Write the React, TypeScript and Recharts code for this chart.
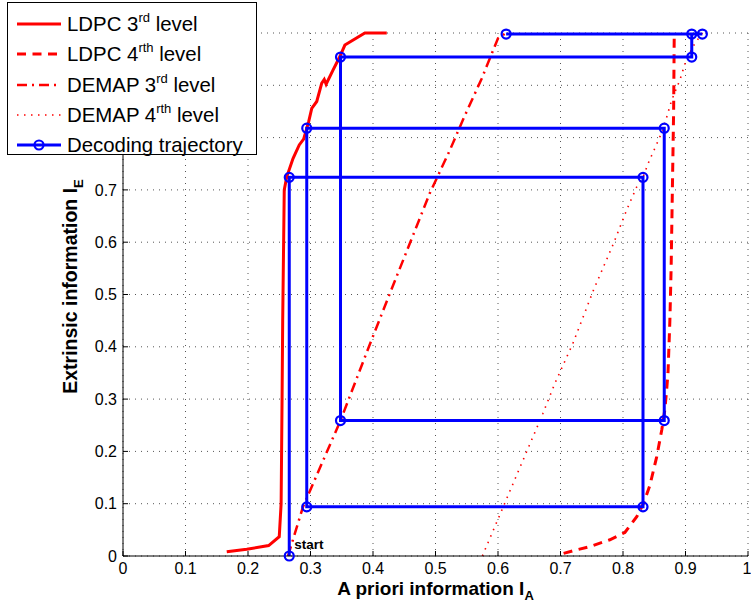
import React from 'react';
import { LineChart, Line, XAxis, YAxis, CartesianGrid, Legend, Label, LabelList } from 'recharts';

type P = { x: number; y: number };
const pts = (a: number[][]): P[] => a.map(([x, y]) => ({ x, y }));

// LDPC 3rd level (solid)
const ldpc3rd = pts([
  [0.166, 0.008], [0.198, 0.013], [0.233, 0.02], [0.250, 0.037], [0.253, 0.10],
  [0.2545, 0.30], [0.2555, 0.45], [0.257, 0.60], [0.258, 0.70], [0.262, 0.725],
  [0.272, 0.76], [0.282, 0.786], [0.289, 0.797], [0.297, 0.830], [0.302, 0.856],
  [0.310, 0.869], [0.318, 0.904], [0.322, 0.911], [0.325, 0.902], [0.336, 0.929],
  [0.347, 0.955], [0.355, 0.977], [0.387, 1.0], [0.422, 1.0],
]);

// LDPC 4rth level (dashed)
const ldpc4rth = pts([
  [0.705, 0.005], [0.72, 0.010], [0.747, 0.018], [0.779, 0.031], [0.803, 0.045],
  [0.822, 0.075], [0.833, 0.101], [0.843, 0.135], [0.854, 0.19], [0.862, 0.241],
  [0.867, 0.28], [0.870, 0.32], [0.872, 0.35], [0.875, 0.45], [0.877, 0.55],
  [0.879, 0.7], [0.881, 0.85], [0.882, 1.0],
]);

// DEMAP 3rd level (dash-dot)
const demap3rd = pts([
  [0.264, 0.0], [0.288, 0.094], [0.348, 0.259], [0.395, 0.405], [0.427, 0.502],
  [0.459, 0.598], [0.491, 0.694], [0.523, 0.776], [0.545, 0.837], [0.574, 0.913],
  [0.600, 0.99], [0.613, 1.0],
]);

// DEMAP 4rth level (dotted)
const demap4rth = pts([
  [0.575, 0.0], [0.63, 0.155], [0.672, 0.273], [0.691, 0.330], [0.720, 0.407],
  [0.753, 0.509], [0.785, 0.598], [0.806, 0.662], [0.822, 0.706], [0.832, 0.724],
  [0.840, 0.750], [0.864, 0.815], [0.878, 0.872], [0.891, 0.910], [0.902, 0.952],
  [0.915, 0.980], [0.927, 1.0],
]);

// Decoding trajectory
const trajectory = pts([
  [0.266, 0.0], [0.266, 0.724], [0.832, 0.724], [0.832, 0.094], [0.294, 0.094],
  [0.294, 0.818], [0.866, 0.818], [0.866, 0.259], [0.348, 0.259], [0.348, 0.954],
  [0.910, 0.954], [0.910, 0.998], [0.613, 0.998], [0.927, 0.998],
]);

const xTicks = [0, 0.1, 0.2, 0.3, 0.4, 0.5, 0.6, 0.7, 0.8, 0.9, 1];
const yTicks = [0, 0.1, 0.2, 0.3, 0.4, 0.5, 0.6, 0.7, 0.8, 0.9, 1];
// y tick labels above 0.7 are hidden behind the legend box in the reference
const yLabelMax = 0.7;

const legendEntries = [
  { base: 'LDPC 3', sup: 'rd', tail: ' level', color: '#ff0000', dash: undefined as string | undefined, width: 3, marker: false },
  { base: 'LDPC 4', sup: 'rth', tail: ' level', color: '#ff0000', dash: '9 6.5', width: 3, marker: false },
  { base: 'DEMAP 3', sup: 'rd', tail: ' level', color: '#ff0000', dash: '10 5 2 5', width: 2.5, marker: false },
  { base: 'DEMAP 4', sup: 'rth', tail: ' level', color: '#ff0000', dash: '1.5 5.5', width: 1.6, marker: false },
  { base: 'Decoding trajectory', sup: '', tail: '', color: '#0000ff', dash: undefined, width: 3, marker: true },
];
const rowCenters = [21, 51, 82, 112, 142];

const startLabel = 'start';
const xAxisTitle = 'A priori information I';
const xAxisSub = 'A';
const yAxisTitle = 'Extrinsic information I';
const yAxisSub = 'E';

const FONT = '"Liberation Sans", Arial, Helvetica, sans-serif';
const fmt = (v: number) => String(+v.toFixed(1));
const fmtY = (v: number) => (v > yLabelMax + 1e-9 ? '' : String(+v.toFixed(1)));

const renderLegend = () => (
  <div
    style={{
      position: 'relative',
      width: 250,
      height: 153,
      border: '1px solid #000',
      background: '#fff',
      boxSizing: 'border-box',
      fontFamily: FONT,
      fontSize: 20.4,
      color: '#000',
    }}
  >
    {legendEntries.map((e, i) => (
      <div key={i} style={{ position: 'absolute', left: 0, top: rowCenters[i] - 13, height: 26, width: 248 }}>
        <svg width={60} height={26} style={{ position: 'absolute', left: 0, top: 0 }}>
          <line x1={9} y1={13} x2={53} y2={13} stroke={e.color} strokeWidth={e.width} strokeDasharray={e.dash} />
          {e.marker && <circle cx={31} cy={13} r={4.5} stroke={e.color} strokeWidth={2.2} fill="none" />}
        </svg>
        <span style={{ position: 'absolute', left: 59, top: 0, lineHeight: '26px', whiteSpace: 'nowrap' }}>
          {e.base}
          {e.sup && <span style={{ fontSize: 13, position: 'relative', top: -9 }}>{e.sup}</span>}
          {e.tail}
        </span>
      </div>
    ))}
  </div>
);

const StartLabel = (props: any) => {
  if (props.index !== 0) return null;
  const x = props.x ?? props.viewBox?.x;
  const y = props.y ?? props.viewBox?.y;
  return (
    <text x={x + 5} y={y - 7} fontFamily={FONT} fontWeight="bold" fontSize={13.5} fill="#000">
      {startLabel}
    </text>
  );
};

const XTitle = (props: any) => {
  const vb = props.viewBox;
  return (
    <text x={vb.x + vb.width / 2} y={vb.y + 39} textAnchor="middle" fontFamily={FONT} fontWeight="bold" fontSize={19} fill="#000">
      {xAxisTitle}
      <tspan fontSize={13} dy={5}>{xAxisSub}</tspan>
    </text>
  );
};

const YTitle = (props: any) => {
  const vb = props.viewBox;
  const cx = vb.x + 77;
  const cy = vb.y + vb.height / 2 - 8;
  return (
    <text x={cx} y={cy} transform={`rotate(-90 ${cx} ${cy})`} textAnchor="middle" fontFamily={FONT} fontWeight="bold" fontSize={19.5} fill="#000">
      {yAxisTitle}
      <tspan fontSize={13} dy={6}>{yAxisSub}</tspan>
    </text>
  );
};

export default function App() {
  return (
    <div style={{ position: 'absolute', left: 0, top: 0, width: 751, height: 613, background: '#fff', fontFamily: FONT }}>
      <LineChart width={751} height={613} margin={{ top: 33, right: 3, bottom: 0, left: 0 }}>
        <CartesianGrid stroke="#555" strokeDasharray="1 5" />
        <XAxis
          type="number"
          dataKey="x"
          domain={[0, 1]}
          ticks={xTicks}
          tickFormatter={fmt}
          height={57}
          tickSize={-5}
          tickMargin={12}
          axisLine={{ stroke: '#000', strokeWidth: 1 }}
          tickLine={{ stroke: '#000' }}
          tick={{ fill: '#000', fontSize: 16, fontFamily: FONT }}
          allowDecimals
        >
          <Label content={XTitle} />
        </XAxis>
        <YAxis
          type="number"
          dataKey="y"
          domain={[0, 1]}
          ticks={yTicks}
          tickFormatter={fmtY}
          width={123}
          tickSize={-5}
          tickMargin={11}
          axisLine={{ stroke: '#000', strokeWidth: 1 }}
          tickLine={{ stroke: '#000' }}
          tick={{ fill: '#000', fontSize: 16, fontFamily: FONT }}
        >
          <Label content={YTitle} />
        </YAxis>
        <Legend layout="vertical" align="center" verticalAlign="middle" content={renderLegend}
          wrapperStyle={{ position: 'absolute', top: 2, left: 7, width: 250, height: 153 }} />
        <Line data={ldpc3rd} dataKey="y" name="LDPC 3rd level" stroke="#ff0000" strokeWidth={3} dot={false} activeDot={false} isAnimationActive={false} type="linear" />
        <Line data={ldpc4rth} dataKey="y" name="LDPC 4rth level" stroke="#ff0000" strokeWidth={3} strokeDasharray="9 6.5" dot={false} activeDot={false} isAnimationActive={false} type="linear" />
        <Line data={demap3rd} dataKey="y" name="DEMAP 3rd level" stroke="#ff0000" strokeWidth={2.5} strokeDasharray="10 5 2 5" dot={false} activeDot={false} isAnimationActive={false} type="linear" />
        <Line data={demap4rth} dataKey="y" name="DEMAP 4rth level" stroke="#ff0000" strokeWidth={1.6} strokeDasharray="1.5 5.5" dot={false} activeDot={false} isAnimationActive={false} type="linear" />
        <Line data={trajectory} dataKey="y" name="Decoding trajectory" stroke="#0000ff" strokeWidth={3}
          dot={{ r: 4.5, stroke: '#0000ff', strokeWidth: 2.2, fill: 'none' }} activeDot={false} isAnimationActive={false} type="linear">
          <LabelList dataKey="y" content={StartLabel} />
        </Line>
      </LineChart>
    </div>
  );
}
